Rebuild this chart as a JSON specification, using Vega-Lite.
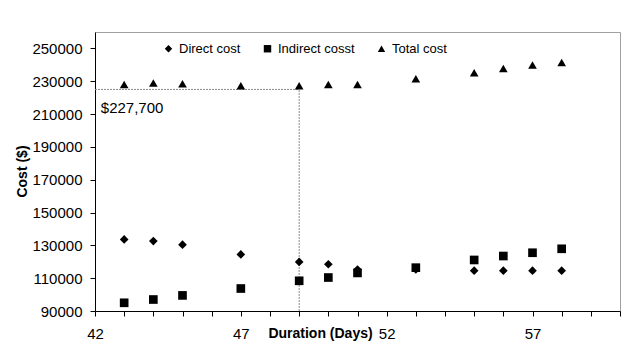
{
  "$schema": "https://vega.github.io/schema/vega-lite/v6.json",
  "autosize": {"type": "none"},
  "padding": {"left": 95, "top": 32, "right": 12, "bottom": 41},
  "width": 525,
  "height": 279,
  "background": "white",
  "config": {
    "font": "Liberation Sans",
    "view": {"stroke": "#a0a0a0", "strokeWidth": 1},
    "axis": {"grid": false, "domainColor": "black", "tickColor": "black", "labelColor": "black", "titleColor": "black", "labelFont": "Liberation Sans", "titleFont": "Liberation Sans"}
  },
  "data": {"values": [
    {"day": 43, "cost": 133600, "series": "Direct cost"},
    {"day": 44, "cost": 132600, "series": "Direct cost"},
    {"day": 45, "cost": 130400, "series": "Direct cost"},
    {"day": 47, "cost": 124500, "series": "Direct cost"},
    {"day": 49, "cost": 119900, "series": "Direct cost"},
    {"day": 50, "cost": 118500, "series": "Direct cost"},
    {"day": 51, "cost": 115300, "series": "Direct cost"},
    {"day": 53, "cost": 115300, "series": "Direct cost"},
    {"day": 55, "cost": 114600, "series": "Direct cost"},
    {"day": 56, "cost": 114600, "series": "Direct cost"},
    {"day": 57, "cost": 114600, "series": "Direct cost"},
    {"day": 58, "cost": 114600, "series": "Direct cost"},
    {"day": 43, "cost": 95000, "series": "Indirect cosst"},
    {"day": 44, "cost": 97000, "series": "Indirect cosst"},
    {"day": 45, "cost": 99500, "series": "Indirect cosst"},
    {"day": 47, "cost": 103700, "series": "Indirect cosst"},
    {"day": 49, "cost": 108400, "series": "Indirect cosst"},
    {"day": 50, "cost": 110400, "series": "Indirect cosst"},
    {"day": 51, "cost": 113200, "series": "Indirect cosst"},
    {"day": 53, "cost": 116400, "series": "Indirect cosst"},
    {"day": 55, "cost": 121100, "series": "Indirect cosst"},
    {"day": 56, "cost": 123500, "series": "Indirect cosst"},
    {"day": 57, "cost": 125500, "series": "Indirect cosst"},
    {"day": 58, "cost": 127900, "series": "Indirect cosst"},
    {"day": 43, "cost": 228000, "series": "Total cost"},
    {"day": 44, "cost": 229000, "series": "Total cost"},
    {"day": 45, "cost": 228400, "series": "Total cost"},
    {"day": 47, "cost": 227300, "series": "Total cost"},
    {"day": 49, "cost": 227300, "series": "Total cost"},
    {"day": 50, "cost": 228000, "series": "Total cost"},
    {"day": 51, "cost": 228000, "series": "Total cost"},
    {"day": 53, "cost": 231500, "series": "Total cost"},
    {"day": 55, "cost": 235100, "series": "Total cost"},
    {"day": 56, "cost": 237800, "series": "Total cost"},
    {"day": 57, "cost": 239900, "series": "Total cost"},
    {"day": 58, "cost": 241400, "series": "Total cost"}
  ]},
  "encoding": {
    "x": {
      "field": "day", "type": "quantitative",
      "scale": {"domain": [42, 60], "nice": false, "zero": false},
      "axis": {
        "title": "Duration (Days)",
        "values": [42,43,44,45,46,47,48,49,50,51,52,53,54,55,56,57,58,59,60],
        "labelExpr": "(datum.value - 42) % 5 == 0 ? datum.label : ''",
        "labelOverlap": false,
        "labelFlush": false,
        "labelBound": false,
        "labelFontSize": 15,
        "labelPadding": 10,
        "tickSize": 5,
        "titleFontSize": 14,
        "titleFontWeight": "bold",
        "titleX": 225,
        "titleY": 22,
        "titleAlign": "center",
        "titleBaseline": "middle"
      }
    },
    "y": {
      "field": "cost", "type": "quantitative",
      "scale": {"domain": [90000, 260000], "nice": false, "zero": false},
      "axis": {
        "title": "Cost ($)",
        "values": [90000,110000,130000,150000,170000,190000,210000,230000,250000],
        "format": "d",
        "labelOverlap": false,
        "labelFlush": false,
        "labelBound": false,
        "labelFontSize": 15,
        "labelPadding": 8,
        "tickSize": 5,
        "titleFontSize": 14,
        "titleFontWeight": "bold",
        "titleX": -73,
        "titleY": 139,
        "titleAlign": "center",
        "titleBaseline": "middle"
      }
    }
  },
  "layer": [
    {
      "data": {"values": [
        {"day": 42, "day2": 49, "cost": 225000, "cost2": 225000},
        {"day": 49, "day2": 49, "cost": 90000, "cost2": 225000}
      ]},
      "mark": {"type": "rule", "color": "#8a8a8a", "strokeDash": [2, 1], "strokeWidth": 1},
      "encoding": {
        "x2": {"field": "day2"},
        "y2": {"field": "cost2"}
      }
    },
    {
      "data": {"values": [{"day": 42.2, "cost": 213800, "label": "$227,700"}]},
      "mark": {"type": "text", "align": "left", "baseline": "middle", "fontSize": 15, "color": "black"},
      "encoding": {
        "text": {"field": "label"}
      }
    },
    {
      "mark": {"type": "point", "filled": true, "color": "black", "opacity": 1, "size": 75},
      "encoding": {
        "shape": {
          "field": "series", "type": "nominal",
          "scale": {"domain": ["Direct cost", "Indirect cosst", "Total cost"], "range": ["diamond", "square", "triangle-up"]},
          "legend": {
            "title": null,
            "orient": "none",
            "direction": "horizontal",
            "legendX": 67,
            "legendY": 10,
            "labelFontSize": 13,
            "labelColor": "black",
            "labelOffset": 4,
            "symbolSize": 55,
            "symbolFillColor": "black",
            "symbolStrokeColor": "black",
            "columnPadding": 19
          }
        }
      }
    }
  ]
}
